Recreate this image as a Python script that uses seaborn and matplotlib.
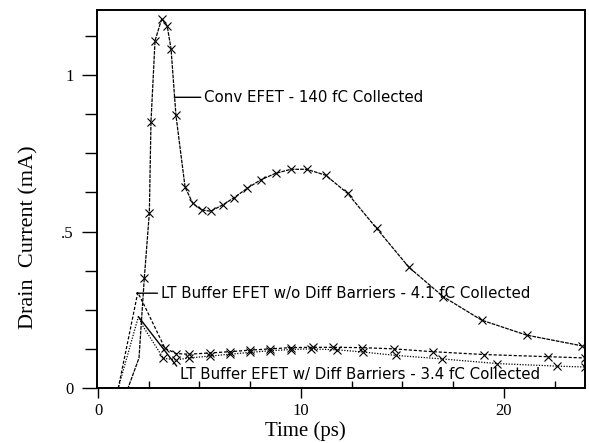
import matplotlib
matplotlib.use("Agg")
import matplotlib.pyplot as plt
import matplotlib.ticker as mticker
import seaborn as sns
import pandas as pd

# ---- data ----
conv_t = [0, 1.48, 2.02, 2.28, 2.53, 2.61, 2.81, 3.14, 3.41, 3.60, 3.84, 4.29, 4.67, 5.11,
          5.55, 6.14, 6.70, 7.35, 8.01, 8.75, 9.51, 10.28, 11.22, 12.30, 13.73, 15.32,
          17.01, 18.90, 21.12, 23.83]
conv_i = [0, 0, 0.096, 0.35, 0.56, 0.85, 1.11, 1.18, 1.157, 1.083, 0.872, 0.642, 0.59, 0.569,
          0.565, 0.585, 0.608, 0.638, 0.665, 0.686, 0.699, 0.699, 0.68, 0.622, 0.51, 0.386,
          0.292, 0.217, 0.169, 0.135]

wo_t = [0, 1.0, 1.96, 2.32, 3.30, 3.85, 4.5, 5.5, 6.5, 7.5, 8.5, 9.5, 10.6, 11.6, 13.0,
        14.6, 16.5, 19.0, 22.2, 24.0]
wo_i = [0, 0, 0.305, 0.259, 0.127, 0.110, 0.108, 0.112, 0.116, 0.121, 0.125, 0.129, 0.130,
        0.130, 0.129, 0.125, 0.116, 0.107, 0.100, 0.096]

w_t = [0, 1.0, 1.99, 2.23, 3.22, 3.84, 4.5, 5.5, 6.5, 7.5, 8.5, 9.5, 10.5, 11.8, 13.05,
       14.71, 16.95, 19.68, 22.6, 24.0]
w_i = [0, 0, 0.228, 0.196, 0.095, 0.090, 0.096, 0.102, 0.108, 0.114, 0.119, 0.123, 0.125,
       0.122, 0.115, 0.104, 0.093, 0.078, 0.070, 0.067]

labels = ["Conv EFET - 140 fC Collected",
          "LT Buffer EFET w/o Diff Barriers - 4.1 fC Collected",
          "LT Buffer EFET w/ Diff Barriers - 3.4 fC Collected"]

x_ticks = [0, 10, 20]
x_ticklabels = ["0", "10", "20"]
y_ticks = [0, 0.5, 1]
y_ticklabels = ["0", ".5", "1"]

# ---- figure ----
sns.set_style("ticks")
plt.rcParams["font.family"] = ["DejaVu Sans"]
plt.rcParams["text.color"] = "black"
plt.rcParams["axes.labelcolor"] = "black"
plt.rcParams["xtick.color"] = "black"
plt.rcParams["ytick.color"] = "black"

fig = plt.figure(figsize=(5.89, 4.43), dpi=100)
ax = fig.add_axes([97 / 589, 1 - 388 / 443, 488 / 589, 378 / 443])

series = [
    (conv_t, conv_i, (0, (3, 0.8)), 3),
    (wo_t, wo_i, (0, (2.5, 1.5)), 4),
    (w_t, w_i, (0, (1, 1.2)), 4),
]
for t, i, ls, start in series:
    df = pd.DataFrame({"t": t, "i": i})
    sns.lineplot(data=df, x="t", y="i", ax=ax, color="black", lw=0.9,
                 linestyle=ls, marker="x", markersize=5.5, markeredgewidth=0.8,
                 markeredgecolor="black", markerfacecolor="black",
                 markevery=list(range(start, len(t))), sort=False, legend=False)

ax.set_xlim(-0.05, 24)
ax.set_ylim(0, 1.208)

ax.set_xticks(x_ticks)
ax.set_xticklabels(x_ticklabels)
ax.set_yticks(y_ticks)
ax.set_yticklabels(y_ticklabels)
ax.xaxis.set_minor_locator(mticker.MultipleLocator(2.5))
ax.yaxis.set_minor_locator(mticker.MultipleLocator(0.125))

serif = "Liberation Serif"
for lab in ax.get_xticklabels() + ax.get_yticklabels():
    lab.set_fontfamily(serif)
    lab.set_fontsize(12)
    lab.set_color("black")

ax.tick_params(axis="x", which="major", direction="out", length=7, width=1, pad=4)
ax.tick_params(axis="x", which="minor", direction="in", length=5, width=1)
ax.tick_params(axis="y", which="major", direction="out", length=11, width=1, pad=6)
ax.tick_params(axis="y", which="minor", direction="out", length=9, width=1)

for sp in ax.spines.values():
    sp.set_visible(True)
    sp.set_linewidth(1.4)
    sp.set_color("black")

ax.set_xlabel("Time (ps)", fontfamily=serif, fontsize=15, color="black")
ax.set_ylabel("Drain  Current (mA)", fontfamily=serif, fontsize=16, color="black")
ax.xaxis.set_label_coords(0.428, -0.088)
ax.yaxis.set_label_coords(-0.12, 0.40)

fs = 10.8
ax.annotate(labels[0], xy=(3.76, 0.929), xytext=(5.22, 0.929), ha="left", va="center",
            fontsize=fs, color="black",
            arrowprops=dict(arrowstyle="-", lw=1, color="black",
                            shrinkA=0, shrinkB=0, relpos=(0, 0.5)))
ax.annotate(labels[1], xy=(1.90, 0.303), xytext=(3.09, 0.303), ha="left", va="center",
            fontsize=fs, color="black",
            arrowprops=dict(arrowstyle="-", lw=1, color="black",
                            shrinkA=0, shrinkB=0, relpos=(0, 0.5)))
ax.annotate(labels[2], xy=(1.99, 0.228), xytext=(4.04, 0.042), ha="left", va="center",
            fontsize=fs, color="black",
            arrowprops=dict(arrowstyle="-", lw=1, color="black",
                            shrinkA=0, shrinkB=0, relpos=(0, 0.8)))

fig.savefig("out.png", dpi=100)
